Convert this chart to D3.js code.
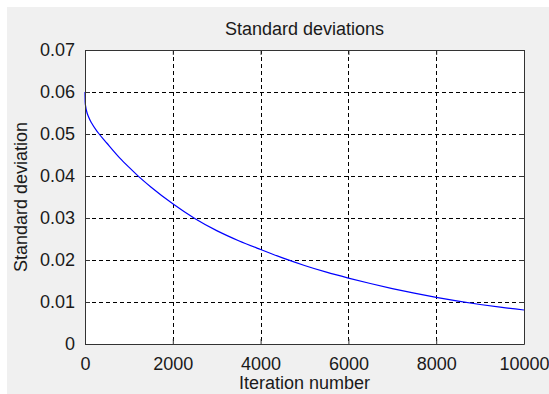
<!DOCTYPE html>
<html>
<head>
<meta charset="utf-8">
<script src="https://cdn.jsdelivr.net/npm/d3@7"></script>
<style>
  body { margin: 0; background: #fff; }
  svg { display: block; }
  text { font-family: "Liberation Sans", Arial, sans-serif; fill: #1a1a1a; }
</style>
</head>
<body>
<div id="chart"></div>
<script>
// values
const iterations = [0, 5, 15, 40, 80, 150, 300, 500, 800, 1000, 1200, 1500, 2000, 2500, 3000, 3500, 4000, 4500, 5000, 5500, 6000, 6500, 7000, 7500, 8000, 8500, 9000, 9500, 10000];
const stdValues = [0.0600, 0.0575, 0.0566, 0.0553, 0.0541, 0.0526, 0.0503, 0.0478, 0.0442, 0.0421, 0.0401, 0.0374, 0.0334, 0.0299, 0.0270, 0.0246, 0.0225, 0.0205, 0.0187, 0.0171, 0.0157, 0.0144, 0.0132, 0.0121, 0.0111, 0.0102, 0.0094, 0.0087, 0.0081];
const xTicks = [0, 2000, 4000, 6000, 8000, 10000];
const yTicks = [0, 0.01, 0.02, 0.03, 0.04, 0.05, 0.06, 0.07];

const W = 549, H = 394;
const margin = { top: 50, right: 25, bottom: 50, left: 85 };
const width = W - margin.left - margin.right;
const height = H - margin.top - margin.bottom;

const svg = d3.select('#chart')
  .append('svg')
  .attr('width', W)
  .attr('height', H);

// figure background
svg.append('rect')
  .attr('x', 7).attr('y', 7)
  .attr('width', W - 7).attr('height', H - 7)
  .attr('fill', '#f0f0f0');

const g = svg.append('g')
  .attr('transform', `translate(${margin.left},${margin.top})`);

const x = d3.scaleLinear().domain([0, 10000]).range([0, width]);
const y = d3.scaleLinear().domain([0, 0.07]).range([height, 0]);

g.append('rect')
  .attr('width', width).attr('height', height)
  .attr('fill', '#fff');

// grid
g.append('g')
  .selectAll('line')
  .data(xTicks.slice(1, -1))
  .enter().append('line')
  .attr('x1', d => Math.round(x(d)) + 0.5).attr('x2', d => Math.round(x(d)) + 0.5)
  .attr('y1', 0).attr('y2', height)
  .attr('stroke', '#000').attr('stroke-dasharray', '4,3');

g.append('g')
  .selectAll('line')
  .data(yTicks.slice(1, -1))
  .enter().append('line')
  .attr('y1', d => Math.round(y(d)) + 0.5).attr('y2', d => Math.round(y(d)) + 0.5)
  .attr('x1', 0).attr('x2', width)
  .attr('stroke', '#000').attr('stroke-dasharray', '4,3');

// curve
const line = d3.line()
  .x((d, i) => x(iterations[i]))
  .y(d => y(d))
  .curve(d3.curveMonotoneX);

g.append('path')
  .datum(stdValues)
  .attr('d', line)
  .attr('fill', 'none')
  .attr('stroke', '#0000ff')
  .attr('stroke-width', 1.2);

// axes (ticks inside, box on)
const xAxis = g.append('g')
  .attr('transform', `translate(0,${height})`)
  .call(d3.axisBottom(x).tickValues(xTicks).tickFormat(d3.format('d')).tickSizeInner(-5).tickSizeOuter(0).tickPadding(13));
const yAxis = g.append('g')
  .call(d3.axisLeft(y).tickValues(yTicks).tickFormat(d => d === 0 ? '0' : d3.format('.2f')(d)).tickSizeInner(-5).tickSizeOuter(0).tickPadding(10));
g.append('g')
  .call(d3.axisTop(x).tickValues(xTicks).tickFormat('').tickSizeInner(-5).tickSizeOuter(0));
g.append('g')
  .attr('transform', `translate(${width},0)`)
  .call(d3.axisRight(y).tickValues(yTicks).tickFormat('').tickSizeInner(-5).tickSizeOuter(0));

svg.selectAll('.domain, .tick line').attr('stroke', '#333');
xAxis.selectAll('text').attr('font-size', 18).attr('fill', '#1a1a1a');
yAxis.selectAll('text').attr('font-size', 18).attr('fill', '#1a1a1a');

// title and labels
svg.append('text')
  .attr('x', margin.left + width / 2).attr('y', 35)
  .attr('text-anchor', 'middle').attr('font-size', 18)
  .text('Standard deviations');

svg.append('text')
  .attr('x', margin.left + width / 2).attr('y', 389)
  .attr('text-anchor', 'middle').attr('font-size', 18)
  .text('Iteration number');

svg.append('text')
  .attr('transform', `translate(27,${margin.top + height / 2}) rotate(-90)`)
  .attr('text-anchor', 'middle').attr('font-size', 18)
  .text('Standard deviation');
</script>
</body>
</html>
